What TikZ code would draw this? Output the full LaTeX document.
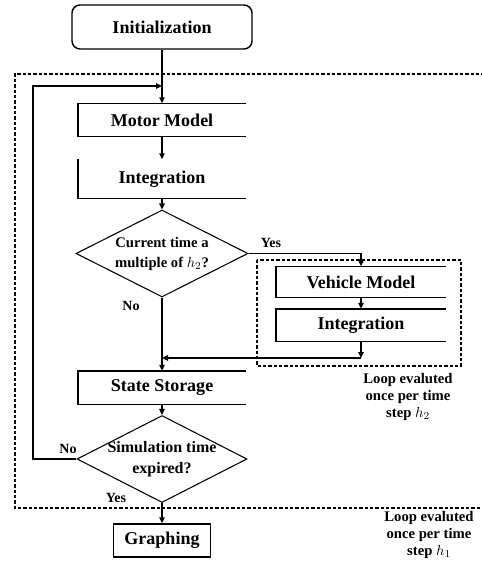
\documentclass[tikz,border=0pt]{standalone}
\usepackage{fontspec}
\setmainfont{Liberation Serif}
\usetikzlibrary{shapes.geometric,arrows.meta}

\def\midx{162}

\begin{document}
\begin{tikzpicture}[x=0.75pt, y=-0.75pt, line width=1.1pt,
    >={Triangle[length=4.5pt,width=4pt]},
    block/.style={minimum width=125.25pt, minimum height=24pt, inner sep=0pt, font=\fontsize{13.5}{15}\selectfont\bfseries},
    decision/.style={diamond, draw, line width=0.8pt, shape aspect=2, inner xsep=-20pt, inner ysep=-10pt, minimum width=129pt, minimum height=65.25pt, align=center, font=\fontsize{11}{15}\selectfont\bfseries},
    dashbox/.style={dash pattern=on 2.5pt off 1.5pt, line width=0.9pt},
    note/.style={align=center, font=\fontsize{11}{12.75}\selectfont\bfseries},
    tag/.style={font=\fontsize{10.5}{12}\selectfont\bfseries}]
    \useasboundingbox (0,0) rectangle (481,566);

    % loop frames
    \draw[dashbox] (490,74) -- (15,74) -- (15,508) -- (490,508);
    \draw[dashbox] (257,260) rectangle (461,366);

    \node[block, draw, rounded corners=6pt, minimum width=135pt, minimum height=33pt] (init) at (\midx,27) {Initialization};
    \node[block] (motor) at (\midx,120) {Motor Model};
    \node[block, minimum height=28.5pt] (integ) at (\midx,179) {Integration};
    \node[decision] (multiple) at (\midx,253.5) {Current time a\\multiple of $h_2$?};
    \node[block, minimum width=126.75pt, minimum height=22.5pt] (vehicle) at (361,282) {Vehicle Model};
    \node[block, minimum width=126.75pt, minimum height=23.25pt] (vinteg) at (361,325) {Integration};
    \node[block] (storage) at (\midx,387.5) {State Storage};
    \node[decision, minimum width=127.5pt, font=\fontsize{12}{15.75}\selectfont\bfseries] (expired) at (\midx,459) {Simulation time\\expired?};
    \node[block, draw, minimum width=72.75pt, minimum height=24.75pt] (graph) at (\midx,540.5) {Graphing};

    % open box sides
    \draw (motor.north east) -- (motor.north west) -- (motor.south west) -- (motor.south east);
    \draw (integ.north west) -- (integ.south west) -- (integ.south east);
    \draw (vehicle.north east) -- (vehicle.north west) -- (vehicle.south west) -- (vehicle.south east);
    \draw (vinteg.north east) -- (vinteg.north west) -- (vinteg.south west) -- (vinteg.south east);
    \draw (storage.north east) -- (storage.north west) -- (storage.south west) -- (storage.south east);

    \coordinate (vjoin) at (361,358);
    \coordinate (merge) at (\midx,358);
    \coordinate (back) at (33,86);
    \coordinate (reentry) at (\midx,86);

    \draw[->] (init.south) -- (motor.north);
    \draw[->] (motor.south) -- (integ.north);
    \draw[->] (integ.south) -- (multiple.north);
    \draw[->] (multiple.east) -| (vehicle.north);
    \draw[->] (vehicle.south) -- (vinteg.north);
    \draw[->] (vinteg.south) -- (vjoin);
    \draw[->] (vjoin) -- (merge);
    \draw[->] (multiple.south) -- (storage.north);
    \draw[->] (storage.south) -- (expired.north);
    \draw[->] (expired.south) -- (graph.north);
    \draw[->] (expired.west) -| (back) -- (reentry);

    \node[tag] (yes1) at (271,243) {Yes};
    \node[tag] (no1) at (131,306) {No};
    \node[tag] (no2) at (68,449) {No};
    \node[tag] (yes2) at (116,498) {Yes};
    \node[note] (inner) at (408,397) {Loop evaluted\\once per time\\step $h_2$};
    \node[note] (outer) at (429,535) {Loop evaluted\\once per time\\step $h_1$};
\end{tikzpicture}
\end{document}
